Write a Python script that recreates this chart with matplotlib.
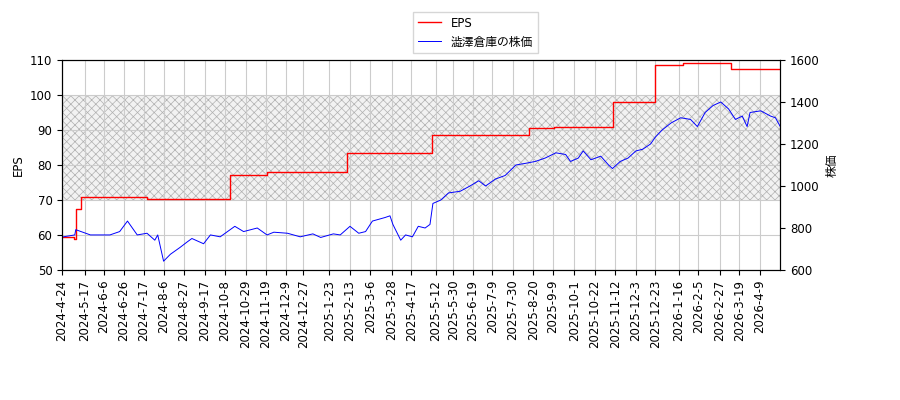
import matplotlib
matplotlib.use("Agg")
import matplotlib.pyplot as plt
import pandas as pd

plt.rcParams['font.family'] = ['DejaVu Sans', 'Noto Sans CJK JP']
plt.rcParams['font.size'] = 8.5
plt.rcParams['hatch.linewidth'] = 0.5

start = pd.Timestamp('2024-04-24')
eps_dates = ['2024-04-24', '2024-05-06', '2024-05-08', '2024-05-13', '2024-07-20', '2024-10-13',
             '2024-11-20', '2025-02-10', '2025-05-08', '2025-08-15', '2025-09-10',
             '2025-11-10', '2025-12-23', '2026-01-20', '2026-03-10', '2026-04-30']
eps_vals = [59.5, 59.0, 67.5, 70.8, 70.3, 77.2, 78.0, 83.3, 88.5, 90.5, 91.0,
            98.0, 108.5, 109.2, 107.3, 107.3]

price_day = [0, 13, 14, 29, 49, 59, 67, 77, 87, 95, 98, 104, 111, 121, 128, 133, 145, 152,
             162, 177, 186, 200, 210, 217, 231, 244, 257, 265, 278, 285, 295, 304, 311, 318,
             331, 336, 339, 347, 352, 359, 365, 372, 377, 380, 388, 396, 408, 418, 427, 434,
             444, 454, 465, 475, 485, 495, 506, 516, 521, 529, 534, 542, 552, 560, 564, 572,
             580, 588, 595, 603, 608, 615, 624, 634, 644, 651, 659, 667, 675, 683, 690, 697,
             702, 705, 716, 726, 731, 736]
price_vals = [757, 767, 792, 767, 767, 783, 833, 767, 775, 742, 767, 642, 675, 708, 733, 750,
              725, 767, 758, 808, 783, 800, 767, 780, 775, 758, 772, 755, 772, 767, 808, 775,
              783, 833, 850, 858, 817, 742, 767, 758, 808, 800, 817, 917, 933, 967, 975, 1000,
              1025, 1000, 1033, 1050, 1100, 1108, 1117, 1133, 1158, 1150, 1117, 1133, 1167, 1125,
              1142, 1100, 1083, 1117, 1133, 1167, 1175, 1200, 1233, 1267, 1300, 1325, 1317, 1283,
              1350, 1383, 1400, 1367, 1317, 1333, 1283, 1350, 1358, 1333, 1325, 1283]

tick_labels = ['2024-4-24', '2024-5-17', '2024-6-6', '2024-6-26', '2024-7-17', '2024-8-6',
               '2024-8-27', '2024-9-17', '2024-10-8', '2024-10-29', '2024-11-19', '2024-12-9',
               '2024-12-27', '2025-1-23', '2025-2-13', '2025-3-6', '2025-3-28', '2025-4-17',
               '2025-5-12', '2025-5-30', '2025-6-19', '2025-7-9', '2025-7-30', '2025-8-20',
               '2025-9-9', '2025-10-1', '2025-10-22', '2025-11-12', '2025-12-3', '2025-12-23',
               '2026-1-16', '2026-2-5', '2026-2-27', '2026-3-19', '2026-4-9']

eps_x = pd.to_datetime(eps_dates)
price_x = start + pd.to_timedelta(price_day, unit='D')

fig = plt.figure(figsize=(9, 4), dpi=100)
ax = fig.add_axes([0.069, 0.325, 0.798, 0.525])
ax.axhspan(70, 100, facecolor='#f2f2f2', edgecolor='#b0b0b0', hatch='xxxx', linewidth=0, zorder=0)
l1, = ax.plot(eps_x, eps_vals, drawstyle='steps-post', color='red', lw=1, label='EPS')
ax.set_ylim(50, 110)
ax.set_ylabel('EPS')
ax.grid(True, color='#cccccc', zorder=1)
ax2 = ax.twinx()
l2, = ax2.plot(price_x, price_vals, color='blue', lw=0.7, label='澁澤倉庫の株価')
ax2.set_ylim(600, 1600)
ax2.set_ylabel('株価')
ax.set_xlim(start, pd.Timestamp('2026-04-30'))
ticks = pd.to_datetime(tick_labels)
ax.set_xticks(ticks)
ax.set_xticklabels(tick_labels, rotation=90)
fig.legend(handles=[l1, l2], loc='upper center', bbox_to_anchor=(0.528, 0.985), fancybox=False)
fig.savefig('out.png')
